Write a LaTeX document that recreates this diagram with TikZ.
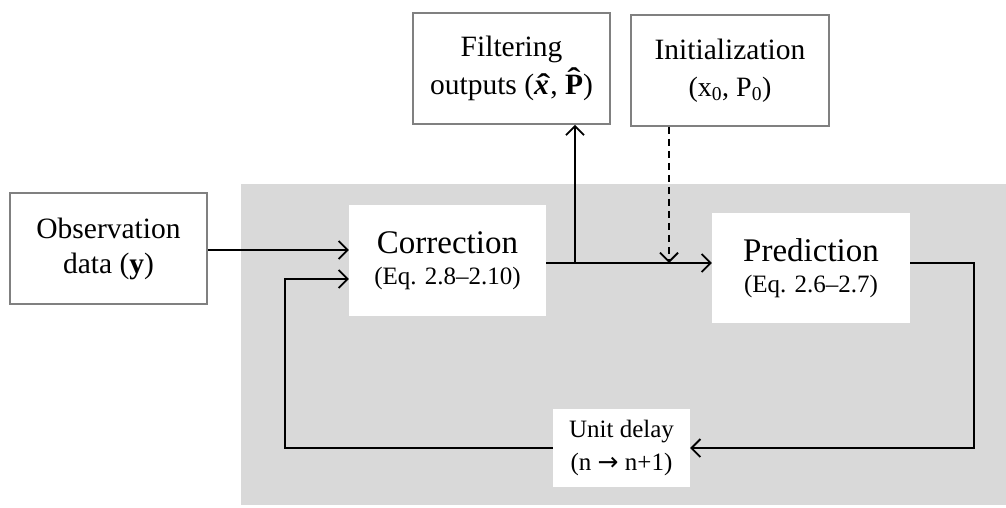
\documentclass[tikz,border=0pt]{standalone}
\usepackage{fontspec}
\usepackage{graphicx}
\setmainfont{Liberation Serif}
\usetikzlibrary{arrows.meta}
\definecolor{panel}{HTML}{D9D9D9}
\definecolor{frame}{HTML}{808080}
% bold letters with a circumflex set over them
\newcommand{\hatmark}{\scalebox{1.35}[1]{\bfseries\char"02C6}}
\newcommand{\hatx}{\ooalign{\hfil\kern0.1em\hatmark\hfil\cr{\bfseries\itshape x}\cr}}
\newcommand{\hatP}{\ooalign{\hfil\raisebox{0.21em}{\hatmark}\hfil\cr{\bfseries P}\cr}}
\begin{document}
\begin{tikzpicture}[x=1pt,y=-1pt,
  outbox/.style={draw=frame,line width=1.8pt,fill=white,align=center,
    inner sep=0pt,minimum width=197pt,minimum height=111pt,
    font=\fontsize{29.5}{37}\selectfont},
  stagebox/.style={fill=white,align=center,inner sep=0pt,
    font=\fontsize{25}{32}\selectfont},
  flow/.style={line width=1.8pt,-{Straight Barb[length=9pt,width=18pt,line width=1.8pt]}}]
\useasboundingbox (0,0) rectangle (1006,507);
% shaded processing area
\fill[panel] (241,184) rectangle (1006,505);

% boxes
\node[outbox,font=\fontsize{29.5}{35}\selectfont] (obs) at (108.5,248.5) {Observation\\data (\textbf{y})};
\node[outbox,font=\fontsize{29.5}{38}\selectfont] (filt) at (511.5,68.5)
  {Filtering\\outputs (\hatx, \hatP)};
\node[outbox,minimum width=198pt] (init) at (730,70.5)
  {Initialization\\{\fontsize{28}{37}\selectfont(x\textsubscript{0}, P\textsubscript{0})}};
\node[stagebox,minimum width=197pt,minimum height=111pt] (corr) at (447.5,260.5)
  {{\fontsize{33}{32}\selectfont Correction}\\[-1pt](Eq. 2.8--2.10)};
\node[stagebox,minimum width=198pt,minimum height=110pt] (pred) at (811,268)
  {{\fontsize{33}{32}\selectfont Prediction}\\[-1pt](Eq. 2.6--2.7)};
\node[stagebox,minimum width=137pt,minimum height=78pt,font=\fontsize{25}{33}\selectfont] (delay) at (621.5,448)
  {Unit delay\\(n {\fontspec{DejaVu Sans}\fontsize{25}{33}\selectfont →} n+1)};

% routing points
\coordinate (j) at (575,263);
\coordinate (d) at (669,263);
\coordinate (r) at (974,448);
\coordinate (l) at (285,448);
\coordinate (fb) at (285,279);

% connectors
\draw[flow] (obs.east |- 0,250) -- (corr.west |- 0,250);
\draw[flow] (corr.east |- j) -- (pred.west |- j);
\draw[flow] (j) -- (filt.south -| j);
\draw[flow,dash pattern=on 7pt off 5pt] (init.south -| d) -- (d);
\draw[flow] (pred.east |- j) -- (r |- j) -- (r) -- (delay.east |- r);
\draw[flow] (delay.west |- l) -- (l) -- (fb) -- (corr.west |- fb);
\end{tikzpicture}
\end{document}
